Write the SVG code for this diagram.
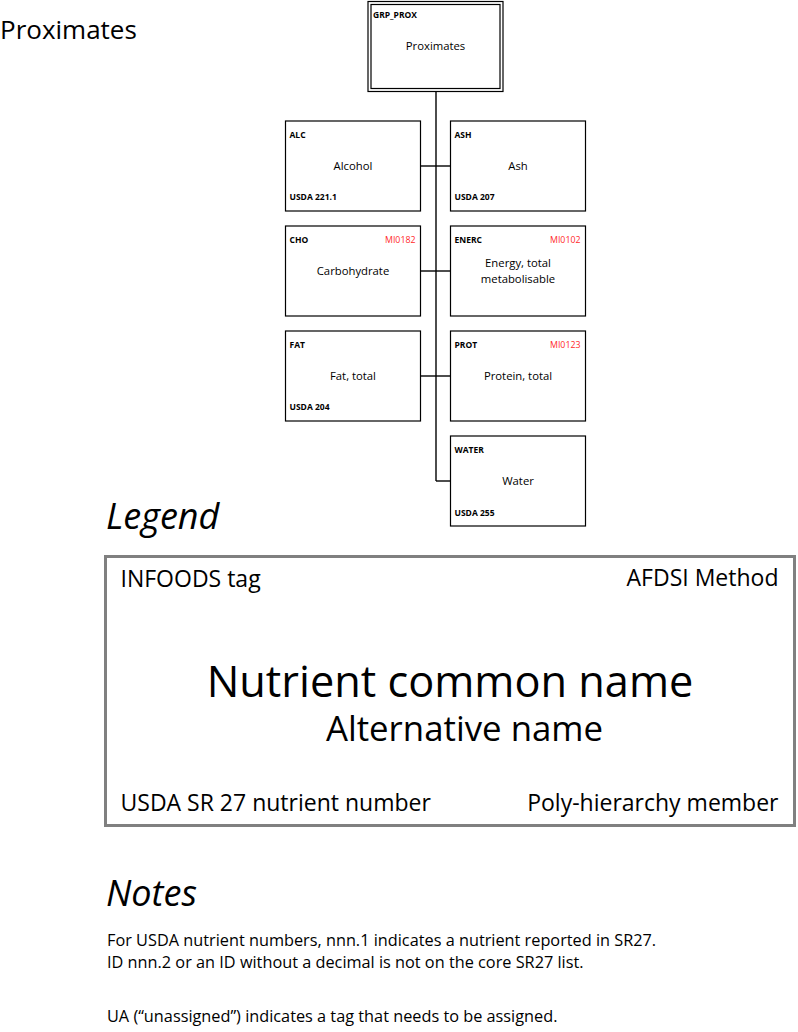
<svg xmlns="http://www.w3.org/2000/svg" width="798" height="1032" viewBox="0 0 798 1032">
<style>
text{font-family:"Open Sans","Noto Sans","Liberation Sans",sans-serif;fill:#000}
.box{fill:#fff;stroke:#000;stroke-width:1.2}
.tag{font-size:8.5px;font-weight:bold}
.name{font-size:11.3px;text-anchor:middle}
.red{font-size:8.8px;fill:#ff2a2a;text-anchor:end}
.conn{stroke:#000;stroke-width:1.4;fill:none}
.lg{font-size:23px}
.h{font-size:36px;font-style:italic}
.note{font-size:16.3px}
</style>
<rect width="798" height="1032" fill="#fff"/>
<text x="0" y="39" style="font-size:26px">Proximates</text>

<g id="connectors">
<line class="conn" x1="436" y1="92" x2="436" y2="481"/>
<line class="conn" x1="420" y1="166" x2="451" y2="166"/>
<line class="conn" x1="420" y1="271" x2="451" y2="271"/>
<line class="conn" x1="420" y1="376" x2="451" y2="376"/>
<line class="conn" x1="436" y1="481" x2="451" y2="481"/>
</g>

<g id="GRP_PROX">
<rect x="368" y="1.5" width="135" height="90" fill="#fff" stroke="#000" stroke-width="1.2"/>
<rect x="371" y="4.5" width="129" height="84" fill="none" stroke="#000" stroke-width="1.2"/>
<text class="tag" x="373" y="18">GRP_PROX</text>
<text class="name" x="435.5" y="50">Proximates</text>
</g>

<g id="ALC">
<rect class="box" x="285.5" y="121" width="135" height="90"/>
<text class="tag" x="289.5" y="138">ALC</text>
<text class="name" x="353" y="170">Alcohol</text>
<text class="tag" x="289.5" y="200">USDA 221.1</text>
</g>

<g id="ASH">
<rect class="box" x="450.5" y="121" width="135" height="90"/>
<text class="tag" x="454.5" y="138">ASH</text>
<text class="name" x="518" y="170">Ash</text>
<text class="tag" x="454.5" y="200">USDA 207</text>
</g>

<g id="CHO">
<rect class="box" x="285.5" y="226" width="135" height="90"/>
<text class="tag" x="289.5" y="243">CHO</text>
<text class="red" x="415.5" y="243">MI0182</text>
<text class="name" x="353" y="274.5">Carbohydrate</text>
</g>

<g id="ENERC">
<rect class="box" x="450.5" y="226" width="135" height="90"/>
<text class="tag" x="454.5" y="243">ENERC</text>
<text class="red" x="580.5" y="243">MI0102</text>
<text class="name" x="518" y="267">Energy, total</text>
<text class="name" x="518" y="282.6">metabolisable</text>
</g>

<g id="FAT">
<rect class="box" x="285.5" y="331" width="135" height="90"/>
<text class="tag" x="289.5" y="348">FAT</text>
<text class="name" x="353" y="379.5">Fat, total</text>
<text class="tag" x="289.5" y="410">USDA 204</text>
</g>

<g id="PROT">
<rect class="box" x="450.5" y="331" width="135" height="90"/>
<text class="tag" x="454.5" y="348">PROT</text>
<text class="red" x="580.5" y="348">MI0123</text>
<text class="name" x="518" y="379.5">Protein, total</text>
</g>

<g id="WATER">
<rect class="box" x="450.5" y="436" width="135" height="90"/>
<text class="tag" x="454.5" y="453">WATER</text>
<text class="name" x="518" y="484.5">Water</text>
<text class="tag" x="454.5" y="516">USDA 255</text>
</g>

<text class="h" x="106" y="529">Legend</text>
<g id="legend">
<rect x="105.5" y="556.5" width="689" height="269" fill="#fff" stroke="#808080" stroke-width="3"/>
<text class="lg" x="120.5" y="586.5">INFOODS tag</text>
<text class="lg" x="778.5" y="586" text-anchor="end">AFDSI Method</text>
<text x="450" y="697" text-anchor="middle" style="font-size:43.3px">Nutrient common name</text>
<text x="464.5" y="741" text-anchor="middle" style="font-size:34.8px">Alternative name</text>
<text class="lg" x="120.5" y="810.5">USDA SR 27 nutrient number</text>
<text class="lg" x="778.5" y="810.5" text-anchor="end">Poly-hierarchy member</text>
</g>

<text class="h" x="106" y="906">Notes</text>
<text class="note" x="107" y="946">For USDA nutrient numbers, nnn.1 indicates a nutrient reported in SR27.</text>
<text class="note" x="107" y="968">ID nnn.2 or an ID without a decimal is not on the core SR27 list.</text>
<text class="note" x="107" y="1022">UA (“unassigned”) indicates a tag that needs to be assigned.</text>
</svg>
